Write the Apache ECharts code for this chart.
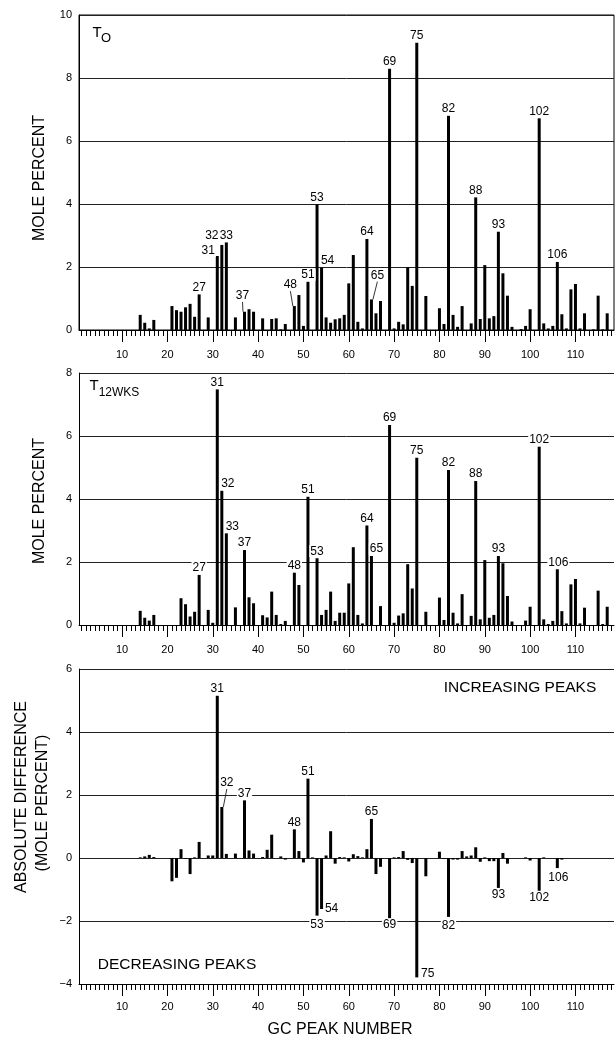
<!DOCTYPE html>
<html>
<head>
<meta charset="utf-8">
<title>GC peak composition</title>
<script src="https://cdn.jsdelivr.net/npm/echarts@6/dist/echarts.min.js"></script>
<style>
  html, body { margin: 0; padding: 0; background: #fff; }
  #chart { width: 616px; height: 1041px; }
</style>
</head>
<body>
<div id="chart"></div>
<script>
// GC peak numbers (categories) and the labelled x ticks
const peakNumbers = Array.from({ length: 118 }, (_, i) => String(i + 1));
const xTickLabels = ['10', '20', '30', '40', '50', '60', '70', '80', '90', '100', '110'];

// T0 - mole percent
const t0Peaks = [14, 15, 16, 17, 21, 22, 23, 24, 25, 26, 27, 29, 31, 32, 33, 35, 37, 38, 39, 41, 43, 44, 45, 46, 48, 49, 50, 51, 53, 54, 55, 56, 57, 58, 59, 60, 61, 62, 63, 64, 65, 66, 67, 69, 70, 71, 72, 73, 74, 75, 77, 80, 81, 82, 83, 84, 85, 87, 88, 89, 90, 91, 92, 93, 94, 95, 96, 98, 99, 100, 102, 103, 104, 105, 106, 107, 108, 109, 110, 111, 112, 114, 115, 116, 117];
const t0Mole = [0.48, 0.23, 0.05, 0.32, 0.76, 0.63, 0.58, 0.72, 0.83, 0.42, 1.13, 0.40, 2.35, 2.70, 2.78, 0.40, 0.58, 0.66, 0.58, 0.37, 0.35, 0.37, 0.02, 0.19, 0.76, 1.11, 0.13, 1.53, 3.99, 1.98, 0.40, 0.23, 0.34, 0.37, 0.48, 1.48, 2.38, 0.26, 0.05, 2.89, 0.97, 0.53, 0.92, 8.29, 0.05, 0.26, 0.18, 1.99, 1.40, 9.12, 1.08, 0.69, 0.19, 6.80, 0.48, 0.10, 0.76, 0.21, 4.21, 0.35, 2.06, 0.37, 0.44, 3.12, 1.80, 1.09, 0.10, 0.03, 0.13, 0.66, 6.72, 0.21, 0.05, 0.13, 2.16, 0.50, 0.05, 1.29, 1.46, 0.05, 0.53, 0.02, 1.09, 0.02, 0.53];
const t0Labeled = [27, 31, 32, 33, 37, 48, 51, 53, 54, 64, 65, 69, 75, 82, 88, 93, 102, 106];

// T12WKS - mole percent
const t12Peaks = [14, 15, 16, 17, 23, 24, 25, 26, 27, 29, 30, 31, 32, 33, 35, 37, 38, 39, 41, 42, 43, 44, 45, 46, 48, 49, 51, 53, 54, 55, 56, 57, 58, 59, 60, 61, 62, 63, 64, 65, 67, 69, 70, 71, 72, 73, 74, 75, 77, 80, 81, 82, 83, 84, 85, 87, 88, 89, 90, 91, 92, 93, 94, 95, 96, 99, 100, 102, 103, 104, 105, 106, 107, 108, 109, 110, 111, 112, 115, 116, 117];
const t12Mole = [0.45, 0.23, 0.14, 0.32, 0.85, 0.66, 0.27, 0.42, 1.59, 0.48, 0.07, 7.48, 4.26, 2.91, 0.56, 2.38, 0.88, 0.69, 0.31, 0.24, 1.06, 0.32, 0.03, 0.13, 1.66, 1.27, 4.07, 2.12, 0.32, 0.48, 1.06, 0.13, 0.39, 0.39, 1.32, 2.47, 0.32, 0.05, 3.16, 2.19, 0.60, 6.35, 0.07, 0.30, 0.37, 1.93, 1.16, 5.31, 0.42, 0.87, 0.16, 4.92, 0.39, 0.05, 0.98, 0.29, 4.57, 0.18, 2.06, 0.23, 0.32, 2.19, 1.96, 0.92, 0.11, 0.14, 0.58, 5.66, 0.18, 0.03, 0.13, 1.77, 0.44, 0.05, 1.29, 1.46, 0.05, 0.55, 1.09, 0.03, 0.58];
const t12Labeled = [27, 31, 32, 33, 37, 48, 51, 53, 64, 65, 69, 75, 82, 88, 93, 102, 106];

// absolute difference (mole percent)
const diffPeaks = [14, 15, 16, 17, 21, 22, 23, 24, 25, 26, 27, 29, 30, 31, 32, 33, 35, 37, 38, 39, 41, 42, 43, 45, 46, 48, 49, 50, 51, 52, 53, 54, 55, 56, 57, 58, 59, 60, 61, 62, 63, 64, 65, 66, 67, 69, 70, 71, 72, 73, 74, 75, 77, 80, 81, 82, 83, 84, 85, 86, 87, 88, 89, 90, 91, 92, 93, 94, 95, 99, 100, 102, 103, 106, 107];
const diffMole = [0.02, 0.05, 0.10, 0.03, -0.74, -0.63, 0.28, -0.02, -0.51, 0.02, 0.51, 0.08, 0.08, 5.15, 1.62, 0.13, 0.14, 1.83, 0.24, 0.14, 0.03, 0.26, 0.74, 0.05, -0.05, 0.91, 0.22, -0.14, 2.52, 0.02, -1.83, -1.62, 0.08, 0.85, -0.18, 0.03, 0.02, -0.11, 0.12, 0.06, 0.02, 0.28, 1.24, -0.51, -0.28, -1.91, 0.02, 0.03, 0.22, -0.06, -0.16, -3.79, -0.58, 0.20, -0.03, -1.87, -0.05, -0.05, 0.22, 0.05, 0.08, 0.34, -0.12, 0.02, -0.10, -0.10, -0.95, 0.16, -0.18, 0.02, -0.08, -1.04, 0.02, -0.32, -0.05];
const diffLabeled = [31, 32, 37, 48, 51, 53, 54, 65, 69, 75, 82, 93, 102, 106];

const FONT = '"Liberation Sans", Arial, Helvetica, sans-serif';

// pixel nudges (dx, dy) for peak labels that sit beside their bar
const labelOffsets = [
  { 31: [-9, 2], 32: [-10, -2], 37: [-2, -9], 48: [-4, -14], 54: [6, 0], 65: [6, -17] },
  { 32: [6, 0], 33: [6, 0], 65: [5, 0], 106: [1, 0] },
  { 32: [5, -17], 53: [0, 2], 54: [10, -7], 75: [11, -11], 82: [0, 2], 106: [1, 3] }
];
// labels that are joined to their bar by a guide line
const leaderPeaks = [[37, 48, 65], [], [32]];

function buildData(peaks, values, labeled, leaders) {
  return peaks.map((p, i) => {
    const v = values[i];
    const item = { value: [p - 1, v] };
    if (labeled.includes(p)) {
      item.label = { show: true, position: v < 0 ? 'bottom' : 'top', distance: 1 };
      if (leaders.includes(p)) {
        item.labelLine = { show: true, lineStyle: { color: '#000', width: 0.8 } };
      }
    }
    return item;
  });
}

const grids = [
  { left: 79, width: 535, top: 15, height: 315, show: true, borderColor: '#000', borderWidth: 1 },
  { left: 79, width: 535, top: 373, height: 252 },
  { left: 79, width: 535, top: 669, height: 315 }
];

const isMajor = (idx, value) => xTickLabels.includes(value);

const xAxes = [];
grids.forEach((g, gi) => {
  // every peak: short ticks + axis line
  xAxes.push({
    type: 'category', gridIndex: gi, data: peakNumbers, position: 'bottom',
    axisLine: { show: true, onZero: false, lineStyle: { color: '#000', width: 1 } },
    axisTick: { show: true, alignWithLabel: true, interval: 0, length: 6, lineStyle: { color: '#000' } },
    axisLabel: { show: false },
    splitLine: { show: false }
  });
  // every tenth peak: long ticks + labels
  xAxes.push({
    type: 'category', gridIndex: gi, data: peakNumbers, position: 'bottom',
    axisLine: { show: false, onZero: false },
    axisTick: { show: true, alignWithLabel: true, interval: isMajor, length: 12, lineStyle: { color: '#000' } },
    axisLabel: { show: true, interval: isMajor, margin: gi === 2 ? 17 : 19, fontSize: 11, color: '#000', fontFamily: FONT },
    splitLine: { show: false }
  });
});

const yRanges = [[0, 10], [0, 8], [-4, 6]];
const yAxes = yRanges.map((r, gi) => ({
  type: 'value', gridIndex: gi, min: r[0], max: r[1], interval: 2,
  axisLine: { show: true, lineStyle: { color: '#000', width: 1 } },
  axisTick: { show: false },
  axisLabel: {
    margin: 7, fontSize: 11, color: '#000', fontFamily: FONT,
    formatter: v => String(v).replace('-', '\u2212')
  },
  splitLine: { show: true, lineStyle: { color: '#222', width: 1 } }
}));

const panelPeaks = [t0Peaks, t12Peaks, diffPeaks];
const panels = [
  buildData(t0Peaks, t0Mole, t0Labeled, leaderPeaks[0]),
  buildData(t12Peaks, t12Mole, t12Labeled, leaderPeaks[1]),
  buildData(diffPeaks, diffMole, diffLabeled, leaderPeaks[2])
];

const series = panels.map((data, gi) => ({
  type: 'bar',
  xAxisIndex: gi * 2,
  yAxisIndex: gi,
  barWidth: 3,
  itemStyle: { color: '#000' },
  label: {
    show: false, color: '#000', fontSize: 12, lineHeight: 12, fontFamily: FONT,
    backgroundColor: '#fff', padding: [0, 1],
    formatter: p => peakNumbers[p.value[0]]
  },
  labelLayout: params => {
    const d = labelOffsets[gi][panelPeaks[gi][params.dataIndex]];
    return d ? { dx: d[0], dy: d[1] } : {};
  },
  data: data
}));

function txt(text, x, y, size, opts) {
  return Object.assign({
    type: 'text', x: x, y: y,
    style: { text: text, font: size + 'px ' + FONT, fill: '#000', align: 'center', verticalAlign: 'middle' }
  }, opts || {});
}

const graphic = [
  txt('T', 97, 33, 15),
  txt('O', 106, 38, 13),
  txt('T', 94, 386, 15),
  txt('12WKS', 119, 393, 12),
  txt('INCREASING PEAKS', 520, 688, 15.5),
  txt('DECREASING PEAKS', 177, 965, 15.5),
  txt('MOLE PERCENT', 40, 178, 16, { rotation: Math.PI / 2 }),
  txt('MOLE PERCENT', 40, 501, 16, { rotation: Math.PI / 2 }),
  txt('ABSOLUTE DIFFERENCE', 22, 797, 16, { rotation: Math.PI / 2 }),
  txt('(MOLE PERCENT)', 43, 803, 16, { rotation: Math.PI / 2 }),
  txt('GC PEAK NUMBER', 340, 1030, 16)
];

const chart = echarts.init(document.getElementById('chart'), null, { renderer: 'canvas' });
chart.setOption({
  animation: false,
  backgroundColor: '#fff',
  grid: grids,
  xAxis: xAxes,
  yAxis: yAxes,
  series: series,
  graphic: graphic
});
</script>
</body>
</html>
